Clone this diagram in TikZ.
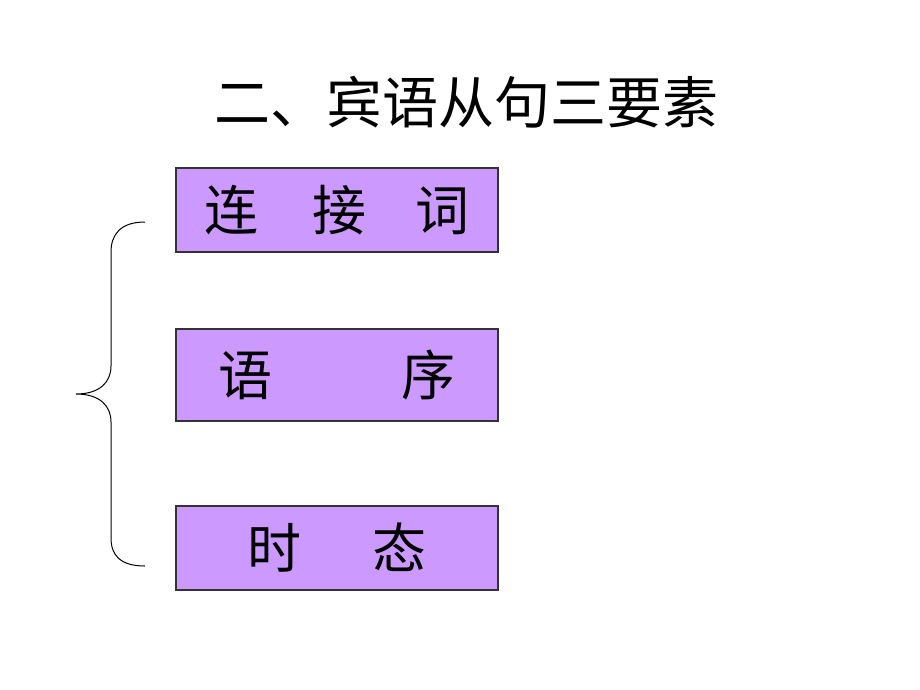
\documentclass[tikz,border=0pt]{standalone}
\usepackage{fontspec}
\newfontfamily\cjk{Noto Sans CJK SC}
\usepackage{tikz}
\definecolor{boxviolet}{HTML}{CC99FF}
\tikzset{
  itembox/.style={draw=black!80,line width=1.2pt,fill=boxviolet,minimum width=322pt,minimum height=84pt,inner sep=0pt,font=\cjk\fontsize{54}{60}\selectfont},
}

\begin{document}
\begin{tikzpicture}[x=1pt,y=-1pt]
\useasboundingbox (0,0) rectangle (920,690);
\node (title) at (466,102)[font=\cjk\fontsize{56}{62}\selectfont]{二、宾语从句三要素};
\node (lianjieci) at (337,210)[itembox]{连\hspace{54pt}接\hspace{50pt}词};
\node (yuxu) at (337,375)[itembox,minimum height=92pt]{语\hspace{130pt}序};
\node (shitai) at (337,548)[itembox]{时\hspace{72pt}态};
% brace
\draw[line width=1pt] (145,222) .. controls (120,222) and (111,235) .. (111,252)
  -- (111,366) .. controls (111,382) and (100,394) .. (76,394)
  .. controls (100,394) and (111,406) .. (111,422)
  -- (111,538) .. controls (111,555) and (120,566) .. (145,566);
\end{tikzpicture}
\end{document}
